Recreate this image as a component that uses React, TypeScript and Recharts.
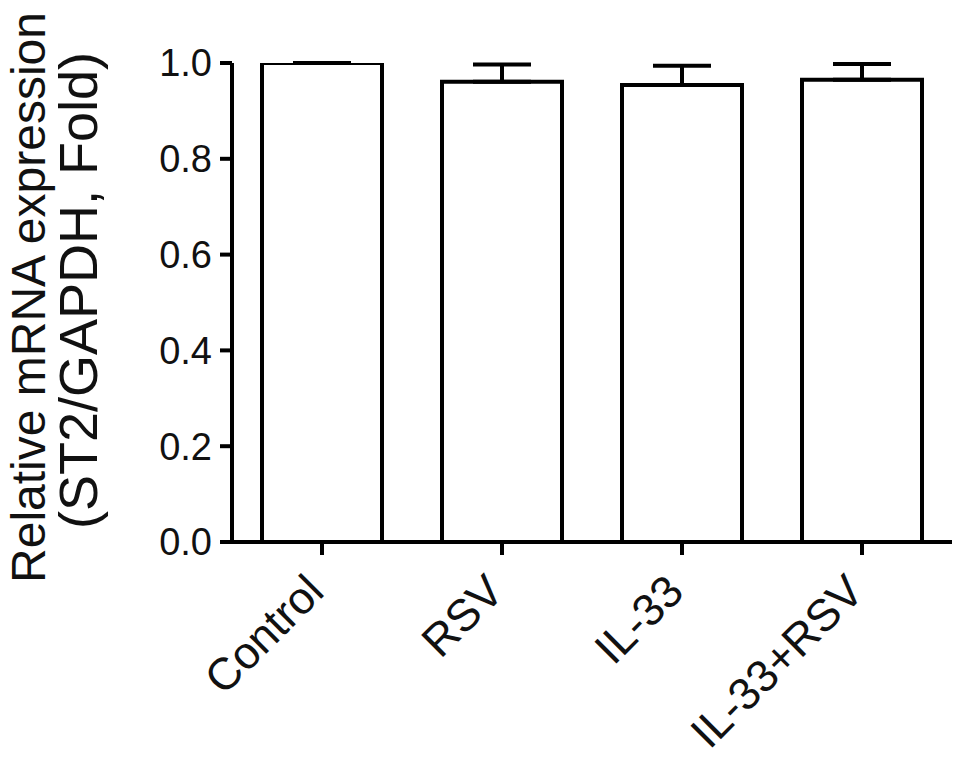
import React from "react";
import { BarChart, Bar, XAxis, YAxis, ErrorBar, Label } from "recharts";

const categories = ["Control", "RSV", "IL-33", "IL-33+RSV"];
const means = [1.0, 0.961, 0.954, 0.965];
const upperErrors = [0, 0.036, 0.04, 0.033];
const yTicks = [0, 0.2, 0.4, 0.6, 0.8, 1.0];
const yLabelLines = ["Relative mRNA expression", "(ST2/GAPDH, Fold)"];

const data = categories.map((name, i) => ({
  name,
  value: means[i],
  err: [0, upperErrors[i]],
}));

const FONT = "'Liberation Sans', Arial, Helvetica, sans-serif";

const XTick = (props: any) => {
  const { x, y, payload } = props;
  const ax = x + 4;
  const ay = y + 39;
  return (
    <text
      x={ax}
      y={ay}
      textAnchor="end"
      transform={`rotate(-45, ${ax}, ${ay})`}
      fontFamily={FONT}
      fontSize={45}
      fill="#111"
    >
      {payload.value}
    </text>
  );
};

const YLabel = (props: any) => {
  const vb = props.viewBox || { x: 0, y: 55, width: 224, height: 479 };
  const mid = vb.y + vb.height / 2;
  const lines = [
    { x: vb.x + 37, cy: mid - 5, size: 48 },
    { x: vb.x + 89, cy: mid - 12, size: 54 },
  ];
  return (
    <g>
      {yLabelLines.map((t, i) => (
        <text
          key={i}
          x={lines[i].x}
          y={lines[i].cy}
          textAnchor="middle"
          transform={`rotate(-90, ${lines[i].x}, ${lines[i].cy})`}
          fontFamily={FONT}
          fontSize={lines[i].size}
          fill="#111"
        >
          {t}
        </text>
      ))}
    </g>
  );
};

export default function App() {
  return (
    <BarChart
      width={953}
      height={748}
      data={data}
      margin={{ top: 55, right: 9, left: 0, bottom: 0 }}
      barSize={120}
    >
      <XAxis
        dataKey="name"
        height={214}
        axisLine={{ stroke: "#000", strokeWidth: 4 }}
        tickLine={{ stroke: "#000", strokeWidth: 4 }}
        tickSize={13}
        tickMargin={0}
        tick={<XTick />}
        interval={0}
      />
      <YAxis
        width={224}
        domain={[0, 1]}
        ticks={yTicks}
        allowDataOverflow
        tickFormatter={(v: number) => v.toFixed(1)}
        axisLine={{ stroke: "#000", strokeWidth: 4 }}
        tickLine={{ stroke: "#000", strokeWidth: 4 }}
        tickSize={12}
        tickMargin={8}
        tick={{ fontFamily: FONT, fontSize: 38, fill: "#111" }}
      >
        <Label content={<YLabel />} />
      </YAxis>
      <Bar
        dataKey="value"
        fill="#fff"
        stroke="#000"
        strokeWidth={4}
        isAnimationActive={false}
      >
        <ErrorBar
          dataKey="err"
          width={29}
          stroke="#000"
          strokeWidth={4}
          direction="y"
          isAnimationActive={false}
        />
      </Bar>
    </BarChart>
  );
}
